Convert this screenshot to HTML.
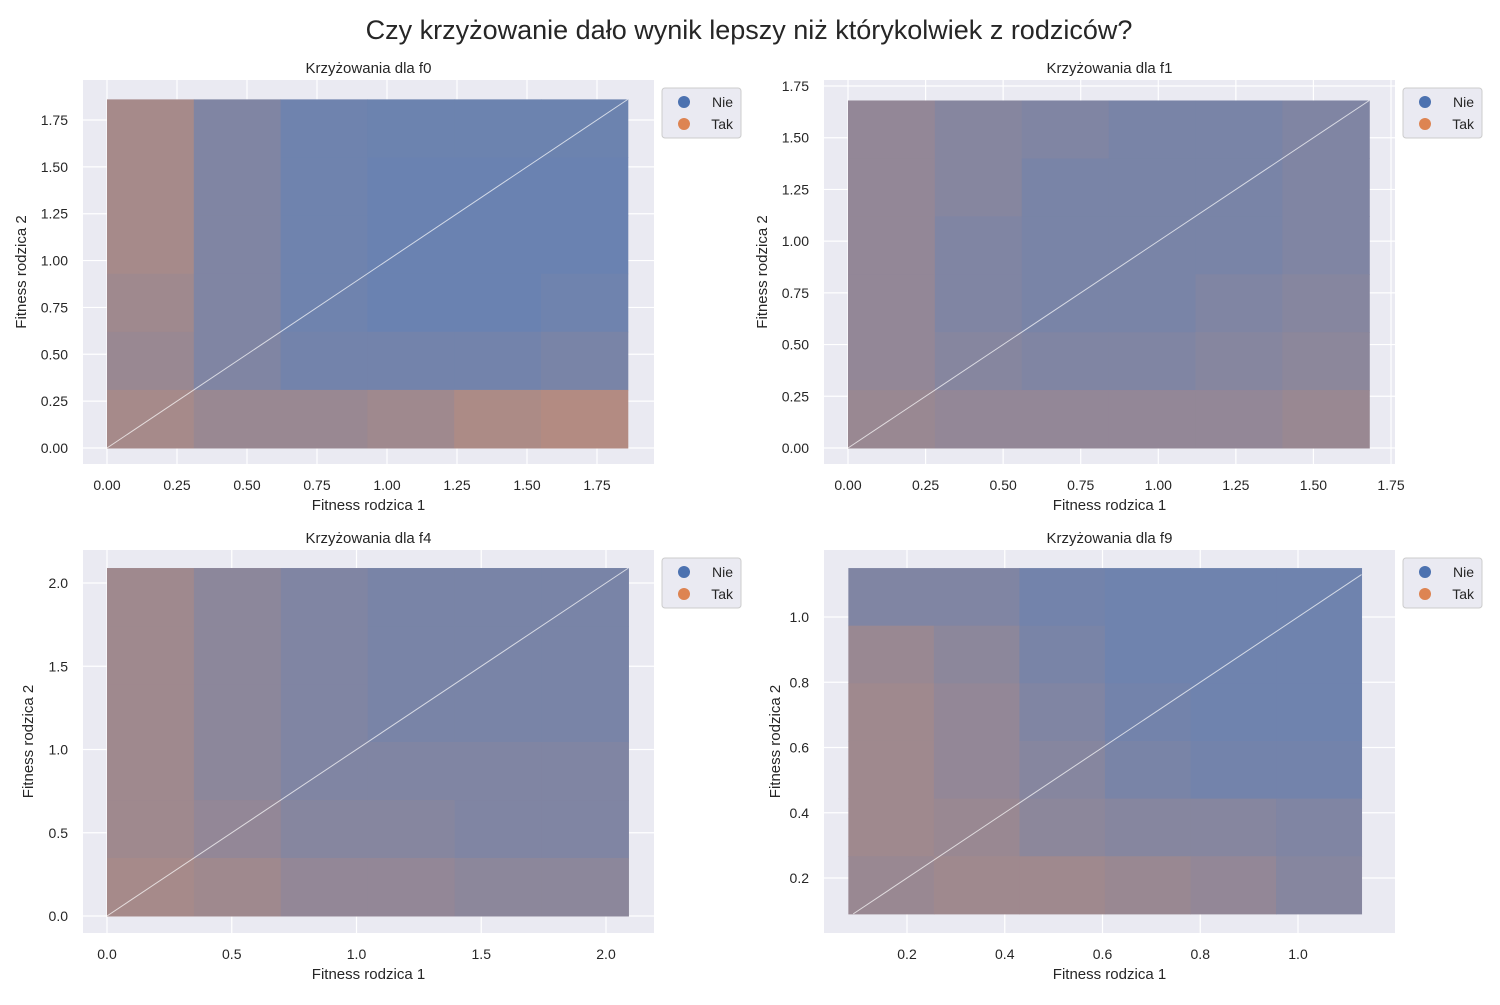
<!DOCTYPE html>
<html><head><meta charset="utf-8"><style>
body{margin:0;background:#fff;}
svg text{font-family:"Liberation Sans","DejaVu Sans",sans-serif;fill:#262626;}
</style></head><body>
<svg id="chart" width="1500" height="1000" xmlns="http://www.w3.org/2000/svg">
<text x="749" y="39" text-anchor="middle" font-size="27">Czy krzyżowanie dało wynik lepszy niż którykolwiek z rodziców?</text>
</svg>
<script>
// Orange ("Tak") fraction per grid cell, rows listed top→bottom
const titles = ["Krzyżowania dla f0","Krzyżowania dla f1","Krzyżowania dla f4","Krzyżowania dla f9"];
const xTicks0 = [0,0.25,0.5,0.75,1.0,1.25,1.5,1.75];
const xTickLabels0 = ["0.00","0.25","0.50","0.75","1.00","1.25","1.50","1.75"];
const xTicks2 = [0,0.5,1.0,1.5,2.0];
const xTickLabels2 = ["0.0","0.5","1.0","1.5","2.0"];
const xTicks3 = [0.2,0.4,0.6,0.8,1.0];
const xTickLabels3 = ["0.2","0.4","0.6","0.8","1.0"];
const dataRange0 = [0,1.86];
const dataRange1 = [0,1.68];
const dataRange2 = [0,2.09];
const dataRange3x = [0.08,1.13];
const dataRange3y = [0.09,1.15];
const grid0 = [[0.55,0.25,0.12,0.1,0.1,0.1],[0.55,0.25,0.12,0.08,0.08,0.08],[0.55,0.25,0.12,0.08,0.08,0.08],[0.5,0.25,0.12,0.08,0.08,0.12],[0.45,0.25,0.15,0.15,0.15,0.2],[0.55,0.45,0.45,0.5,0.6,0.65]];
const grid1 = [[0.4,0.3,0.25,0.2,0.2,0.25],[0.4,0.3,0.2,0.2,0.2,0.25],[0.4,0.25,0.2,0.2,0.2,0.25],[0.4,0.25,0.2,0.2,0.25,0.3],[0.4,0.3,0.25,0.25,0.3,0.35],[0.45,0.4,0.4,0.4,0.4,0.45]];
const grid2 = [[0.5,0.35,0.25,0.2,0.2,0.2],[0.5,0.35,0.25,0.2,0.2,0.2],[0.5,0.35,0.25,0.2,0.2,0.2],[0.5,0.35,0.25,0.25,0.25,0.25],[0.5,0.4,0.3,0.3,0.25,0.25],[0.55,0.5,0.4,0.4,0.35,0.35]];
const grid3 = [[0.25,0.25,0.15,0.12,0.12,0.12],[0.45,0.35,0.2,0.12,0.12,0.12],[0.5,0.4,0.25,0.15,0.12,0.12],[0.5,0.4,0.3,0.2,0.15,0.15],[0.5,0.45,0.35,0.3,0.3,0.25],[0.45,0.5,0.5,0.45,0.4,0.3]];

const NS="http://www.w3.org/2000/svg";
const svg=document.getElementById('chart');
function mk(tag,attrs,parent){const e=document.createElementNS(NS,tag);for(const k in attrs)e.setAttribute(k,attrs[k]);(parent||svg).appendChild(e);return e;}
function mix(f){const b=[76,114,176],o=[221,132,82];const w=0.12;return 'rgb('+[0,1,2].map(i=>Math.round((b[i]*(1-f)+o[i]*f)*(1-w)+240*w)).join(',')+')';}

const panels=[
 {box:[83,80,654,464],sx:[107,0,597,1.75],sy:[448,0,120,1.75],xt:xTicks0,xl:xTickLabels0,yt:xTicks0,yl:xTickLabels0,xr:dataRange0,yr:dataRange0,g:grid0},
 {box:[824,80,1395,464],sx:[848,0,1391,1.75],sy:[448,0,86,1.75],xt:xTicks0,xl:xTickLabels0,yt:xTicks0,yl:xTickLabels0,xr:dataRange1,yr:dataRange1,g:grid1},
 {box:[83,550,654,933],sx:[107,0,606,2.0],sy:[916,0,583,2.0],xt:xTicks2,xl:xTickLabels2,yt:xTicks2,yl:xTickLabels2,xr:dataRange2,yr:dataRange2,g:grid2},
 {box:[824,550,1395,933],sx:[907,0.2,1298,1.0],sy:[878,0.2,617,1.0],xt:xTicks3,xl:xTickLabels3,yt:xTicks3,yl:xTickLabels3,xr:dataRange3x,yr:dataRange3y,g:grid3}
];
panels.forEach((p,i)=>{
 const [x0,y0,x1,y1]=p.box;
 const X=v=>p.sx[0]+(v-p.sx[1])*(p.sx[2]-p.sx[0])/(p.sx[3]-p.sx[1]);
 const Y=v=>p.sy[0]+(v-p.sy[1])*(p.sy[2]-p.sy[0])/(p.sy[3]-p.sy[1]);
 const g=mk('g',{});
 
 
 const bg=mk('rect',{x:x0,y:y0,width:x1-x0,height:y1-y0,fill:'#eaeaf2'},g);
 
 
 p.xt.forEach((t,k)=>{const x=X(t);
  mk('line',{x1:x,x2:x,y1:y0,y2:y1,stroke:'#fff','stroke-width':1.2},g);
  const tx=mk('text',{x:x,y:y1+26,'text-anchor':'middle','font-size':14},g);tx.textContent=p.xl[k];
  
  });
 p.yt.forEach((t,k)=>{const y=Y(t);
  mk('line',{x1:x0,x2:x1,y1:y,y2:y,stroke:'#fff','stroke-width':1.2},g);
  const tx=mk('text',{x:x0-15,y:y+5,'text-anchor':'end','font-size':14},g);tx.textContent=p.yl[k];
  
  });
 const n=p.g.length;
 const dx=(p.xr[1]-p.xr[0])/n, dy=(p.yr[1]-p.yr[0])/n;
 for(let r=0;r<n;r++)for(let c=0;c<n;c++){
  const f=p.g[r][c];
  const ya=p.yr[1]-r*dy, yb=ya-dy;
  const xa=p.xr[0]+c*dx;
  const cell=mk('rect',{x:X(xa),y:Y(ya),width:X(xa+dx)-X(xa)+0.5,height:Y(yb)-Y(ya)+0.5,fill:mix(f)},g);
  
  
 }
 const d=mk('line',{x1:X(Math.max(p.xr[0],p.yr[0])),y1:Y(Math.max(p.xr[0],p.yr[0])),x2:X(Math.min(p.xr[1],p.yr[1])),y2:Y(Math.min(p.xr[1],p.yr[1])),stroke:'#fff','stroke-width':1,opacity:0.7},g);
 
 
 const t=mk('text',{x:(x0+x1)/2,y:y0-7,'text-anchor':'middle','font-size':15},g);t.textContent=titles[i];
 
 
 const xl=mk('text',{x:(x0+x1)/2,y:y1+46,'text-anchor':'middle','font-size':15},g);xl.textContent='Fitness rodzica 1';
 
 
 const yx=(i==0||i==1)?(x0-57):(i==2?x0-50:x0-44);
 const yl=mk('text',{x:yx,y:(y0+y1)/2,'text-anchor':'middle','font-size':15,transform:'rotate(-90 '+yx+' '+(y0+y1)/2+')'},g);yl.textContent='Fitness rodzica 2';
 
 
 const lg=mk('g',{},g);
 
 
 const lx=x1+8,ly=y0+8;
 mk('rect',{x:lx,y:ly,width:79,height:50,rx:3,fill:'#eaeaf2',stroke:'#ccc'},lg);
 [['Nie','#4c72b0'],['Tak','#dd8452']].forEach((e,k)=>{
  const c=mk('circle',{cx:lx+22,cy:ly+14+k*22,r:6,fill:e[1]},lg);
  
  
  const tt=mk('text',{x:lx+71,y:ly+19+k*22,'text-anchor':'end','font-size':14},lg);tt.textContent=e[0];
  
  
 });
});
</script>
</body></html>
